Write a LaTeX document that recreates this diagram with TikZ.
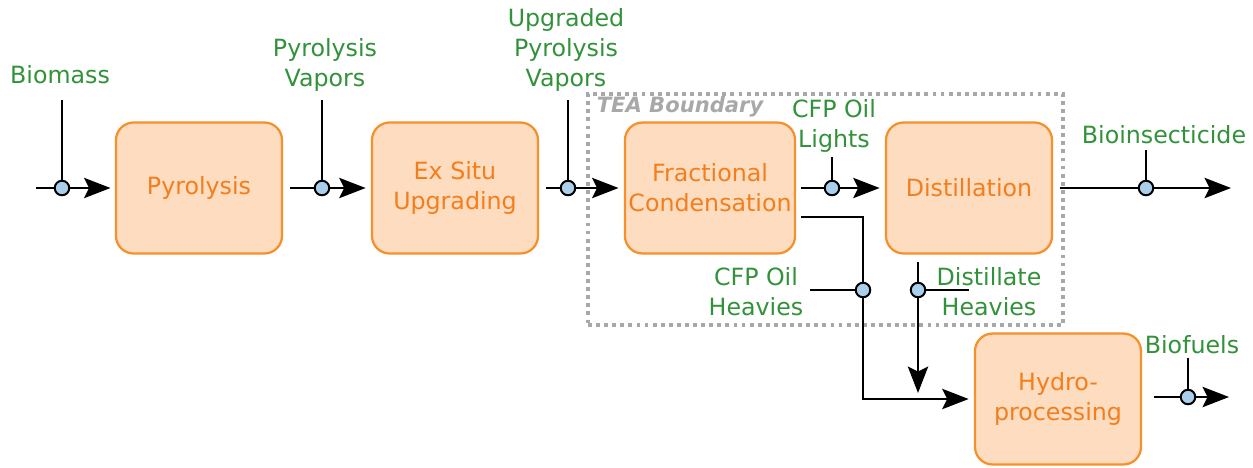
\documentclass[tikz,border=0pt]{standalone}
\usepackage{fontspec}
\setmainfont{DejaVu Sans}
\usepackage{tikz}
\usetikzlibrary{positioning, arrows.meta}
\definecolor{boxfill}{HTML}{FDDCBF}
\definecolor{boxline}{HTML}{F5902C}
\definecolor{boxtext}{HTML}{F47E1C}
\definecolor{tagtext}{HTML}{32923A}
\definecolor{streamfill}{HTML}{A9CFEC}
\definecolor{teagray}{HTML}{A8A8A8}

\begin{document}
\begin{tikzpicture}[x=0.02cm, y=-0.02cm,
		>={Stealth[length=15pt, width=11.5pt, inset=2.8pt]},
		every block/.style={draw=boxline, fill=boxfill, text=boxtext,
			line width=0.45mm, rounded corners=10pt, align=center,
			minimum width=3.32cm, minimum height=2.62cm, inner sep=2pt,
			font=\fontsize{13.5pt}{17pt}\selectfont},
		stream/.style={circle, draw, line width=0.4mm, fill=streamfill,
			inner sep=0pt, minimum size=0.29cm},
		tag/.style={text=tagtext, align=center, inner sep=0pt,
			font=\fontsize{13.5pt}{17pt}\selectfont},
		flow/.style={line width=0.5mm}]

		\useasboundingbox (0,0) rectangle (1253,467);

		% TEA boundary
		\node [draw=teagray, line width=2.2pt, dash pattern=on 2.2pt off 2.4pt,
			minimum width=9.5cm, minimum height=4.62cm, inner sep=0pt]
			(tea) at (825.5,209.5) {};
		\node [text=teagray, inner sep=0pt,
			font=\fontsize{12pt}{14pt}\selectfont\bfseries\itshape]
			(tea-label) at (680,107) {TEA Boundary};

		% Blocks
		\node [every block] (pyro) at (199,188) {Pyrolysis};
		\node [every block] (exsitu) at (455,188) {Ex Situ\\Upgrading};
		\node [every block] (frac) at (710,188) {Fractional\\Condensation};
		\node [every block] (dist) at (969,188) {Distillation};
		\node [every block] (hydro) at (1058,399) {Hydro-\\processing};

		% Stream labels
		\node [tag] (l-1) at (60,75) {Biomass};
		\node [tag] (l-2) at (325,65) {Pyrolysis\\Vapors};
		\node [tag] (l-3) at (566,50) {Upgraded\\Pyrolysis\\Vapors};
		\node [tag] (l-4) at (834,126) {CFP Oil\\Lights};
		\node [tag] (l-5) at (1164,135) {Bioinsecticide};
		\node [tag] (l-6) at (1192,345) {Biofuels};
		\node [tag] (l-7) at (756,292) {CFP Oil\\Heavies};
		\node [tag] (l-8) at (989,292) {Distillate\\Heavies};

		% Stream points on the main line
		\foreach \n/\sx/\top in {1/62/100, 2/322/100, 3/568/100, 4/832/157, 5/1146/150} {
			\node [stream] (s-\n) at (\sx,188) {};
			\coordinate (t-\n) at (\sx,\top);
			\draw [flow] (t-\n) -- (s-\n);
		}
		\node [stream] (s-6) at (1188,397) {};
		\coordinate (t-6) at (1188,358);
		\draw [flow] (t-6) -- (s-6);
		\node [stream] (s-7) at (863,290) {};
		\node [stream] (s-8) at (918,290) {};

		% Free ends
		\coordinate (in-1) at (36,188);
		\coordinate (out-5) at (1231,188);
		\coordinate (in-6) at (1154,397);
		\coordinate (out-6) at (1229,397);
		\coordinate (h-1) at (801,217);
		\coordinate (h-2) at (918,262);
		\coordinate (end-8) at (918,393);
		\coordinate (k-7) at (810,290);
		\coordinate (k-8) at (969,290);

		% Main line
		\draw [flow] (in-1) -- (s-1);
		\draw [->, flow, shorten >=2.5pt] (s-1) -- (pyro);
		\draw [flow, shorten <=4pt] (pyro) -- (s-2);
		\draw [->, flow, shorten >=3pt] (s-2) -- (exsitu);
		\draw [flow, shorten <=4pt] (exsitu) -- (s-3);
		\draw [->, flow, shorten >=3pt] (s-3) -- (frac);
		\draw [flow, shorten <=3pt] (frac) -- (s-4);
		\draw [->, flow, shorten >=3pt] (s-4) -- (dist);
		\draw [flow, shorten <=4pt] (dist) -- (s-5);
		\draw [->, flow] (s-5) -- (out-5);
		\draw [flow] (in-6) -- (s-6);
		\draw [->, flow] (s-6) -- (out-6);

		% Heavies to hydroprocessing
		\draw [flow] (h-1) -| (s-7);
		\draw [->, flow, shorten >=3pt] (s-7) |- (hydro);
		\draw [flow] (k-7) -- (s-7);
		\draw [flow] (h-2) -- (s-8);
		\draw [->, flow] (s-8) -- (end-8);
		\draw [flow] (s-8) -- (k-8);

	\end{tikzpicture}
\end{document}
